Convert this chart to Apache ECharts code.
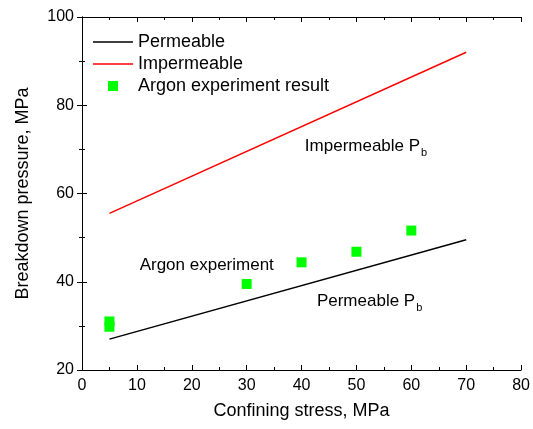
<!DOCTYPE html>
<html><head><meta charset="utf-8">
<script src="https://cdn.jsdelivr.net/npm/echarts@6/dist/echarts.min.js"></script>
<style>html,body{margin:0;padding:0;background:#fff}#c{width:533px;height:429px}</style>
</head><body><div id="c"></div>
<script>
var permeableX = [5, 70];
var permeableY = [27, 49.5];
var impermeableX = [5, 70];
var impermeableY = [55.5, 92];
var argonX = [5, 5, 30, 40, 50, 60];
var argonY = [31, 29.8, 39.5, 44.4, 46.8, 51.6];
var xTicks = [0, 10, 20, 30, 40, 50, 60, 70, 80];
var yTicks = [20, 40, 60, 80, 100];
var annotations = [
  {x: 40.6, y: 70.8, text: '{a|Impermeable P}{s|b}'},
  {x: 10.5, y: 43.8, text: '{a|Argon experiment}'},
  {x: 42.8, y: 35.6, text: '{a|Permeable P}{s|b}'}
];
function zip(xs, ys){ return xs.map(function(x,i){return [x, ys[i]];}); }
var FONT = 'Liberation Sans';
var axisLine = {show: true, lineStyle: {color: '#000', width: 1}};
var tick = {show: true, inside: true, length: 5, lineStyle: {color: '#000'}};
var minor = {show: true, splitNumber: 2, length: 3, lineStyle: {color: '#000'}};
var lineIcon = 'path://M0,0L0.01,0M0,4.3L40,4.3L40,5.7L0,5.7ZM40,10L40.01,10';
var chart = echarts.init(document.getElementById('c'));
chart.setOption({
  animation: false,
  textStyle: {fontFamily: FONT},
  grid: {left: 82, right: 11, top: 17, bottom: 59},
  legend: {
    orient: 'vertical', left: 88, top: 28, itemWidth: 40, itemHeight: 10, itemGap: 4,
    textStyle: {fontFamily: FONT, fontSize: 18, color: '#000', lineHeight: 18},
    data: [
      {name: 'Permeable', icon: lineIcon, itemStyle: {color: '#000'}},
      {name: 'Impermeable', icon: lineIcon, itemStyle: {color: '#ff0000'}},
      {name: 'Argon experiment result', icon: 'path://M0,0L0.01,0M15,0L25,0L25,10L15,10ZM40,10L40.01,10'}
    ]
  },
  xAxis: [{
    type: 'value', min: xTicks[0], max: xTicks[xTicks.length-1], interval: 10,
    name: 'Confining stress, MPa', nameLocation: 'middle', nameGap: 32,
    nameTextStyle: {fontSize: 18, color: '#000', fontFamily: FONT},
    axisLine: axisLine, axisTick: tick, minorTick: minor, splitLine: {show: false},
    axisLabel: {fontSize: 16, color: '#000', margin: 8, fontFamily: FONT}
  }, {
    type: 'value', position: 'top', min: 0, max: 80, interval: 10,
    axisLine: axisLine, axisTick: tick, minorTick: minor, splitLine: {show: false},
    axisLabel: {show: false}
  }],
  yAxis: [{
    type: 'value', min: yTicks[0], max: yTicks[yTicks.length-1], interval: 20,
    name: 'Breakdown pressure, MPa', nameLocation: 'middle', nameGap: 50,
    nameTextStyle: {fontSize: 18, color: '#000', fontFamily: FONT},
    axisLine: axisLine, axisTick: tick, minorTick: minor, splitLine: {show: false},
    axisLabel: {fontSize: 16, color: '#000', margin: 8, fontFamily: FONT}
  }, {
    type: 'value', position: 'right', min: 20, max: 100, interval: 20,
    axisLine: axisLine, axisTick: tick, minorTick: minor, splitLine: {show: false},
    axisLabel: {show: false}
  }],
  series: [
    {name: 'Permeable', type: 'line', data: zip(permeableX, permeableY), symbol: 'none',
     lineStyle: {color: '#000', width: 1.5}, itemStyle: {color: '#000'}},
    {name: 'Impermeable', type: 'line', data: zip(impermeableX, impermeableY), symbol: 'none',
     lineStyle: {color: '#ff0000', width: 1.5}, itemStyle: {color: '#ff0000'}},
    {name: 'Argon experiment result', type: 'scatter', data: zip(argonX, argonY), symbol: 'rect',
     symbolSize: 10, itemStyle: {color: '#00ff00', opacity: 1}},
    {name: 'notes', type: 'scatter', symbolSize: 0, silent: true,
     itemStyle: {opacity: 1},
     data: annotations.map(function(a){return {value: [a.x, a.y], label: {formatter: a.text}};}),
     label: {show: true, position: 'right', distance: 0, color: '#000', opacity: 1,
       rich: {a: {fontSize: 17, color: '#000', fontFamily: FONT},
              s: {fontSize: 11, color: '#000', fontFamily: FONT, padding: [14, 0, 0, 1]}}}}
  ]
});
</script></body></html>
